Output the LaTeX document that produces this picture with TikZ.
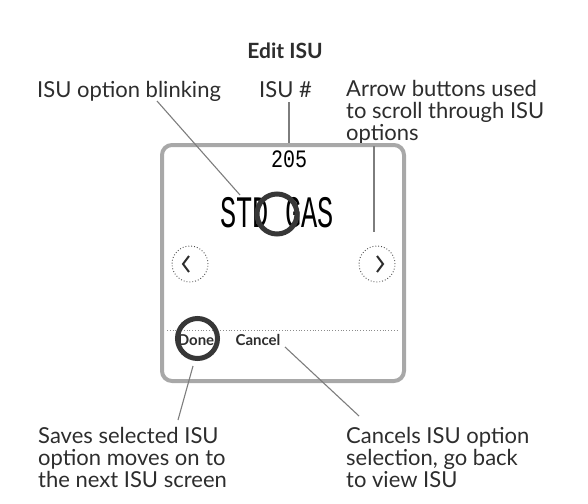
\documentclass[tikz,border=0pt]{standalone}
\usepackage{fontspec}
\setmainfont{Lato}
\setmonofont{Liberation Mono}
\usetikzlibrary{positioning}
\definecolor{inkgray}{RGB}{45,45,45}
\definecolor{leadgray}{RGB}{125,125,125}
\definecolor{framegray}{RGB}{168,168,168}
\definecolor{ringgray}{RGB}{55,55,55}

\begin{document}
\begin{tikzpicture}[x=1pt, y=-1pt,
    lbl/.style={anchor=base west, align=left, inner sep=0pt, text=inkgray, font=\fontsize{22}{22}\selectfont},
    ttl/.style={anchor=base, inner sep=0pt, text=inkgray, font=\fontsize{21}{22}\selectfont\bfseries},
    frame/.style={rectangle, draw=framegray, line width=4pt, rounded corners=10pt, minimum width=242pt, minimum height=236pt},
    segsmall/.style={inner sep=0pt, text=black, font=\fontsize{25}{25}\selectfont\ttfamily},
    segbig/.style={inner sep=0pt, text=black, font=\fontsize{45}{45}\selectfont\ttfamily},
    ring/.style={circle, draw=ringgray, line width=5pt, minimum size=40pt, inner sep=0pt},
    btn/.style={circle, draw=black!70, dotted, line width=0.9pt, minimum size=36pt, inner sep=0pt},
    chev/.style={draw=inkgray, line width=2pt},
    keytxt/.style={inner sep=0pt, text=inkgray, font=\fontsize{15}{16}\selectfont\bfseries},
    sepline/.style={draw=black!45, dotted, line width=0.8pt},
    lead/.style={draw=leadgray, line width=1.1pt}
]
\useasboundingbox (0,0) rectangle (588,503);

\node[ttl] (title) at (285,59) {Edit ISU};
\node[lbl] (blink) at (37,97) {ISU option blinking};
\node[lbl] (isunum) at (259,97) {ISU \#};
\node[lbl] (arrowlbl) at (346,140) {Arrow buttons used\\to scroll through ISU\\options};
\node[lbl] (saves) at (38,487) {Saves selected ISU\\option moves on to\\the next ISU screen};
\node[lbl] (cancels) at (346,487) {Cancels ISU option\\selection, go back\\to view ISU};

\node[frame] (screen) at (283,263) {};
\node[segsmall] (isucode) at (289,159) {\scalebox{0.8}[1]{205}};
\node[segbig] (optval) at (277,213) {\scalebox{0.6}[1]{STD GAS}};
\node[ring] (optring) at (277,214) {};

\node[btn] (leftbtn) at (190,264) {};
\node[btn] (rightbtn) at (377,264) {};
\draw[chev] ([shift={(-1,-8)}]leftbtn.center) -- ++(-6,8) -- ++(6,8);
\draw[chev] ([shift={(0,-8)}]rightbtn.center) -- ++(6,8) -- ++(-6,8);

\coordinate (sepl) at (167,330);
\coordinate (sepr) at (399,330);
\draw[sepline] (sepl) -- (sepr);

\node[keytxt] (done) at (196,340) {Done};
\node[keytxt] (cancel) at (258,340) {Cancel};
\node[ring] (donering) at (197.5,338.5) {};

\coordinate (blinktip) at (157,101);
\coordinate (blinkend) at (240,195);
\coordinate (arrowtip) at (374,146);
\coordinate (arrowend) at (374,232);
\coordinate (donetip) at (193,366);
\coordinate (doneend) at (178,420);
\coordinate (canceltip) at (285,347);
\coordinate (cancelend) at (359,416);

\draw[lead] (blinktip) -- (blinkend);
\draw[lead] ([shift={(0,5)}]isunum.south -| isucode) -- (isucode.north |- screen.north);
\draw[lead] (arrowtip) -- (arrowend);
\draw[lead] (donetip) -- (doneend);
\draw[lead] (canceltip) -- (cancelend);
\end{tikzpicture}
\end{document}
